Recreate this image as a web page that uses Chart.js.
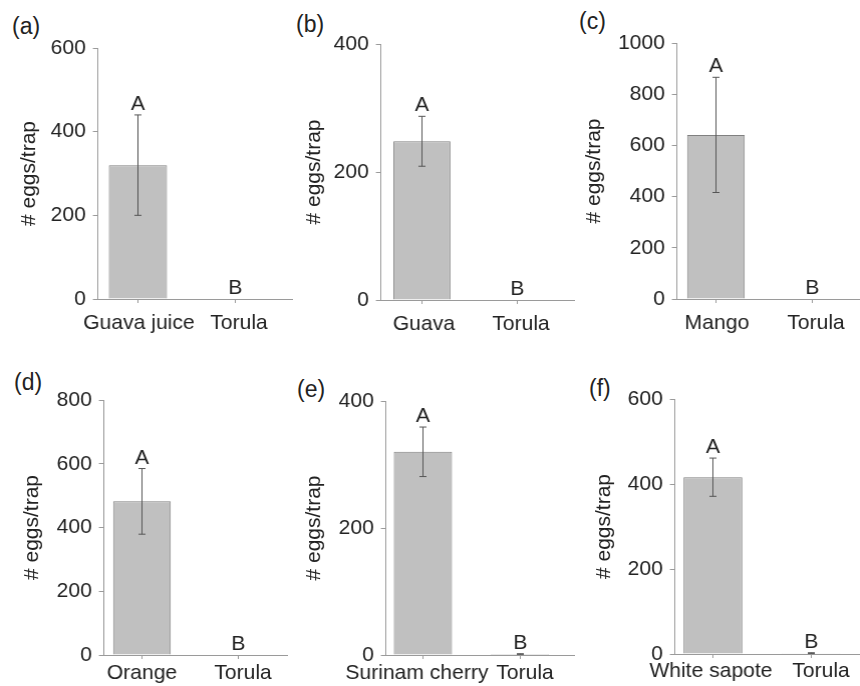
<!DOCTYPE html>
<html>
<head>
<meta charset="utf-8">
<script src="https://cdn.jsdelivr.net/npm/chart.js@4.4.0/dist/chart.umd.min.js"></script>
<style>
    html, body { margin: 0; padding: 0; background: #fff; width: 860px; height: 686px; overflow: hidden; }
    .tag { position: absolute; font: 23px "Liberation Sans", Arial, sans-serif; line-height: 1; color: #222; }
    canvas { position: absolute; }
</style>
</head>
<body>
<script>
/**
 * Eggs per trap, fruit lure vs Torula (six panels)
 */

// Data
const panelTags = ['(a)', '(b)', '(c)', '(d)', '(e)', '(f)'];
const fruitLabels = ['Guava juice', 'Guava', 'Mango', 'Orange', 'Surinam cherry', 'White sapote'];
const controlLabel = 'Torula';
const fruitMeans = [320, 248, 641, 482, 320, 416];
const fruitErrors = [120, 39, 225, 103, 39, 45];
const torulaMeans = [0, 0, 0, 0, 1.5, 2];
const torulaErrors = [0, 0, 0, 0, 0.5, 1];
const letters = ['A', 'B'];
const yMaxes = [600, 400, 1000, 800, 400, 600];
const yStep = 200;
const yTitle = '# eggs/trap';

// Layout of each panel frame (pixels on the page); shift = label nudge, pad = label gap
const frames = [
    {x: 98,  top: 48,  bottom: 299, c1: 138, c2: 235, right: 293, titleGap: 68, tagX: 12,  tagY: 15,  shift: [1, 4],   pad: 12},
    {x: 381, top: 44,  bottom: 300, c1: 422, c2: 517, right: 575, titleGap: 66, tagX: 296, tagY: 13,  shift: [2, 4],   pad: 12},
    {x: 677, top: 43,  bottom: 299, c1: 716, c2: 812, right: 872, titleGap: 82, tagX: 579, tagY: 10,  shift: [1, 4],   pad: 12},
    {x: 104, top: 400, bottom: 655, c1: 142, c2: 238, right: 288, titleGap: 71, tagX: 14,  tagY: 371, shift: [0, 5],   pad: 6},
    {x: 386, top: 401, bottom: 655, c1: 423, c2: 520, right: 575, titleGap: 71, tagX: 297, tagY: 378, shift: [-6, 5],  pad: 6},
    {x: 675, top: 399, bottom: 654, c1: 713, c2: 811, right: 872, titleGap: 70, tagX: 589, tagY: 377, shift: [-2, 10], pad: 5}
];

const FONT = '"Liberation Sans", Arial, sans-serif';
const TEXT = '#222';
const AXIS = '#9a9a9a';

// Error bars and significance letters
const errorBarsPlugin = {
    id: 'errorBars',
    afterDatasetsDraw(chart) {
        const {ctx, scales: {x, y}} = chart;
        const means = chart.options.plugins.errorBars.means;
        const errs = chart.options.plugins.errorBars.errors;
        ctx.save();
        ctx.strokeStyle = '#555';
        ctx.lineWidth = 1;
        means.forEach((m, i) => {
            const px = Math.round(x.getPixelForValue(i + 1)) + 0.5;
            const hi = y.getPixelForValue(m + errs[i]);
            const lo = y.getPixelForValue(Math.max(0, m - errs[i]));
            if (errs[i] > 0) {
                ctx.beginPath();
                ctx.moveTo(px, lo);
                ctx.lineTo(px, hi);
                ctx.moveTo(px - 3.5, hi);
                ctx.lineTo(px + 3.5, hi);
                ctx.moveTo(px - 3.5, lo);
                ctx.lineTo(px + 3.5, lo);
                ctx.stroke();
            }
            ctx.fillStyle = TEXT;
            ctx.font = '21px ' + FONT;
            ctx.textAlign = 'center';
            ctx.textBaseline = 'alphabetic';
            ctx.fillText(letters[i], px, hi - 5);
        });
        ctx.restore();
    }
};

function makePanel(i) {
    const f = frames[i];
    const lineH = 21 * 1.2;
    const left = f.x - f.titleGap - lineH / 2;
    const top = f.top - 30;
    const width = f.right - left;
    const height = f.bottom + 42 - top;
    const unit = f.c2 - f.c1;
    const xMin = 1 - (f.c1 - f.x) / unit;
    const xMax = 2 + (f.right - f.c2) / unit;
    const names = [fruitLabels[i], controlLabel];
    const means = [fruitMeans[i], torulaMeans[i]];
    const errs = [fruitErrors[i], torulaErrors[i]];

    const tag = document.createElement('div');
    tag.className = 'tag';
    tag.textContent = panelTags[i];
    tag.style.left = f.tagX + 'px';
    tag.style.top = f.tagY + 'px';
    document.body.appendChild(tag);

    const canvas = document.createElement('canvas');
    canvas.width = width;
    canvas.height = height;
    canvas.style.left = left + 'px';
    canvas.style.top = top + 'px';
    canvas.style.width = width + 'px';
    canvas.style.height = height + 'px';
    document.body.appendChild(canvas);

    new Chart(canvas, {
        type: 'bar',
        data: {
            datasets: [{
                data: means.map((m, k) => ({x: k + 1, y: m})),
                backgroundColor: '#c0c0c0',
                borderColor: '#808080',
                borderWidth: 1,
                barPercentage: 0.6,
                categoryPercentage: 1
            }]
        },
        options: {
            responsive: false,
            animation: false,
            devicePixelRatio: 1,
            layout: {padding: {left: 0, top: f.top - top, right: 0, bottom: 0}},
            plugins: {
                legend: {display: false},
                tooltip: {enabled: false},
                errorBars: {means, errors: errs}
            },
            scales: {
                // axis line and category tick marks
                x: {
                    type: 'linear',
                    position: 'bottom',
                    weight: 0,
                    offset: false,
                    min: xMin,
                    max: xMax,
                    afterBuildTicks: s => { s.ticks = [{value: 1}, {value: 2}]; },
                    afterFit: s => { s.height = 0; },
                    border: {display: true, color: AXIS, width: 1},
                    grid: {display: true, offset: false, drawOnChartArea: false, tickLength: 4, color: AXIS},
                    ticks: {display: false}
                },
                // category names
                xl: {
                    type: 'linear',
                    position: 'bottom',
                    weight: 1,
                    offset: false,
                    min: xMin,
                    max: xMax,
                    afterBuildTicks: s => {
                        s.ticks = [{value: 1 + f.shift[0] / unit}, {value: 2 + f.shift[1] / unit}];
                    },
                    afterFit: s => { s.height = 42; },
                    border: {display: false},
                    grid: {display: false, drawTicks: false},
                    ticks: {
                        autoSkip: false,
                        maxRotation: 0,
                        padding: f.pad,
                        color: TEXT,
                        font: {size: 21, family: FONT},
                        callback: (v, k) => names[k]
                    }
                },
                y: {
                    min: 0,
                    max: yMaxes[i],
                    afterFit: s => { s.width = f.x - left; },
                    border: {display: true, color: AXIS, width: 1},
                    grid: {display: true, drawOnChartArea: false, tickLength: 5, color: AXIS},
                    ticks: {
                        stepSize: yStep,
                        padding: 7,
                        color: TEXT,
                        font: {size: 21, family: FONT},
                        callback: v => String(v)
                    },
                    title: {
                        display: true,
                        text: yTitle,
                        padding: 0,
                        color: TEXT,
                        font: {size: 21, family: FONT}
                    }
                }
            }
        },
        plugins: [errorBarsPlugin]
    });
}

panelTags.forEach((t, i) => makePanel(i));
</script>
</body>
</html>
